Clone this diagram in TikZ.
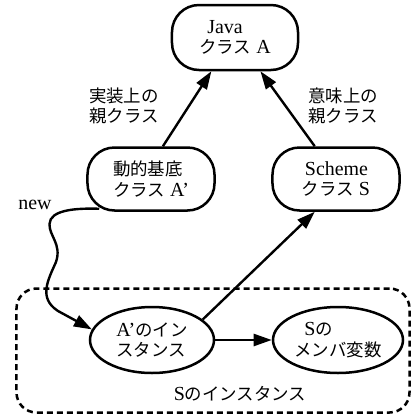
\documentclass[tikz,border=0pt]{standalone}
\usepackage{fontspec}
\setmainfont{Liberation Serif}
\newfontfamily\cjk[Scale=0.875]{Noto Sans CJK JP}
\usetikzlibrary{arrows.meta,shapes.geometric,calc}

\tikzset{
  every node/.style={font=\fontsize{20}{20.5}\selectfont},
  cls/.style={draw, line width=2.5bp, rectangle, rounded corners=27bp,
    minimum width=127bp, minimum height=63bp, inner sep=0pt, align=left},
  inst/.style={draw, line width=2.5bp, ellipse, minimum height=66bp,
    inner sep=0pt, align=left},
  lbl/.style={align=center, inner sep=0pt},
  link/.style={line width=2.4bp, -{Triangle[length=18bp,width=12bp]}},
  group/.style={draw, line width=2.5bp, dash pattern=on 6bp off 4bp,
    rounded corners=20bp, minimum width=393bp, minimum height=124bp},
}

\begin{document}
\begin{tikzpicture}[x=1bp, y=-1bp]
  \useasboundingbox (0,0) rectangle (411,416);

  % class nodes
  \node[cls, minimum width=126bp, minimum height=65bp] (java) at (235,37.5)
    {\hspace{8bp}Java\\{\cjk クラス} A};
  \node[cls] (dyn) at (151,179) {{\cjk 動的基底}\\{\cjk クラス} A'};
  \node[cls] (sch) at (336,179) {\hspace{3bp}Scheme\\{\cjk クラス} S};

  % labels on the parent links
  \node[lbl] (implbl) at (124,106) {\cjk 実装上の\\\cjk 親クラス};
  \node[lbl] (semlbl) at (343,106) {\cjk 意味上の\\\cjk 親クラス};
  \node[lbl] (newlbl) at (35,205) {new};

  % instance group
  \node[group] (grp) at (213,350.5) {};
  \node[inst, minimum width=124bp] (ainst) at (152,340)
    {A'{\cjk のイン}\\{\cjk スタンス}};
  \node[inst, minimum width=130bp] (smem) at (338,340)
    {\hspace{10bp}S{\cjk の}\\{\cjk メンバ変数}};
  \node[lbl] (grplbl) at (240,394) {S{\cjk のインスタンス}};

  % start of the "new" link, on the lower rounded edge of the base class
  \coordinate (newstart) at ($(dyn.south west)+(13,-3)$);

  % connectors
  \draw[link] (dyn.70) -- (java.235);
  \draw[link] (sch.123) -- (java.307);
  \draw[link] (ainst.22) -- (sch.237);
  \draw[link] (ainst.east) -- (smem.west);
  \draw[link] (newstart) .. controls (75,208) and (50,210) .. (49.5,224)
    .. controls (49,236) and (62,244) .. (56,262)
    .. controls (48,280) and (38,298) .. (58,311) -- (ainst.170);
\end{tikzpicture}
\end{document}
